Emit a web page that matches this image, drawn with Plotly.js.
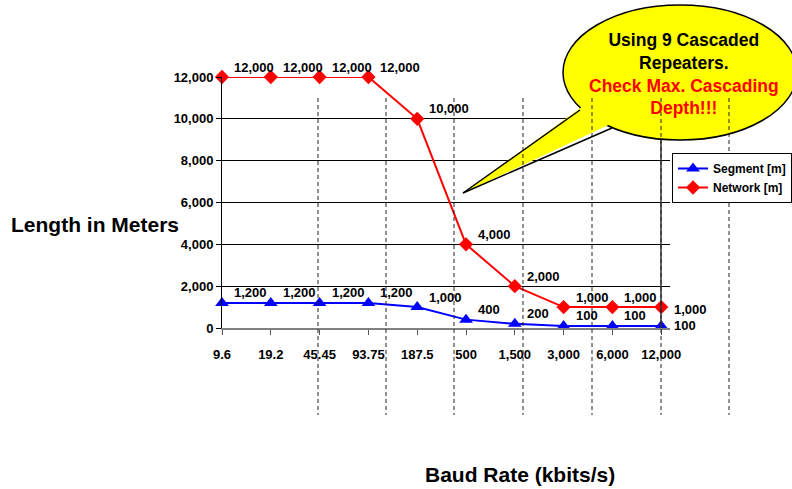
<!DOCTYPE html>
<html>
<head>
<meta charset="utf-8">
<script src="https://cdn.plot.ly/plotly-3.0.1.min.js"></script>
<style>html,body{margin:0;padding:0;background:#fff;}#chart{width:792px;height:489px;}</style>
</head>
<body>
<div id="chart"></div>
<script>
// ---- data ----
const baudRates = ["9.6", "19.2", "45.45", "93.75", "187.5", "500", "1,500", "3,000", "6,000", "12,000"];
const segmentM = [1200, 1200, 1200, 1200, 1000, 400, 200, 100, 100, 100];
const networkM = [12000, 12000, 12000, 12000, 10000, 4000, 2000, 1000, 1000, 1000];
const segmentName = "Segment [m]";
const networkName = "Network [m]";
const yTicks = [0, 2000, 4000, 6000, 8000, 10000, 12000];
const yTickText = ["0", "2,000", "4,000", "6,000", "8,000", "10,000", "12,000"];
const calloutLines = ["Using 9 Cascaded", "Repeaters."];
const calloutWarn = ["Check Max. Cascading", "Depth!!!"];

// ---- layout helpers (pixel -> paper) ----
const W = 792, H = 489;
const L = 222, R = 670, T = 77, B = 328;
const px = x => (x - L) / (R - L);
const py = y => (B - y) / (B - T);

const fmt = v => v.toLocaleString("en-US");
const FONT = "Liberation Sans, Arial, sans-serif";
const boldFont = (size, color) => ({family: FONT, size: size, color: color || "#000", weight: "bold"});

const traces = [
  {
    x: baudRates, y: segmentM, name: "<b>" + segmentName + "</b>", type: "scatter", mode: "lines+markers",
    line: {color: "#0000FF", width: 2},
    marker: {symbol: "triangle-up", size: 12, color: "#0000FF"},
    cliponaxis: false
  },
  {
    x: baudRates, y: networkM, name: "<b>" + networkName + "</b>", type: "scatter", mode: "lines+markers",
    line: {color: "#FF0000", width: 2},
    marker: {symbol: "diamond", size: 11, color: "#FF0000"},
    cliponaxis: false
  }
];

// decorative slide elements
const shapes = [];
shapes.push({type: "circle", xref: "paper", yref: "paper", layer: "above",
  x0: px(563), x1: px(797), y0: py(140), y1: py(5),
  fillcolor: "#FFFF00", line: {color: "#000", width: 1.5}});
const tA = [580, 110], tB = [612, 128], tip = [463, 193];
const tAi = [586, 104], tBi = [617, 121];
shapes.push({type: "path", xref: "paper", yref: "paper", layer: "above",
  path: `M ${px(tAi[0])} ${py(tAi[1])} L ${px(tip[0])} ${py(tip[1])} L ${px(tBi[0])} ${py(tBi[1])} Z`,
  fillcolor: "#FFFF00", line: {width: 0}});
shapes.push({type: "line", xref: "paper", yref: "paper", layer: "above",
  x0: px(tA[0]), y0: py(tA[1]), x1: px(tip[0]), y1: py(tip[1]), line: {color: "#000", width: 1.5}});
shapes.push({type: "line", xref: "paper", yref: "paper", layer: "above",
  x0: px(tB[0]), y0: py(tB[1]), x1: px(tip[0]), y1: py(tip[1]), line: {color: "#000", width: 1.5}});
shapes.push({type: "line", xref: "paper", yref: "paper", layer: "above",
  x0: px(661), x1: px(661), y0: py(140), y1: py(328), line: {color: "#333", width: 1.5}});
[318, 386, 454, 523, 592, 661, 729].forEach(x => {
  shapes.push({type: "line", xref: "paper", yref: "paper", layer: "above",
    x0: px(x), x1: px(x), y0: py(98), y1: py(415),
    line: {color: "#222", width: 1, dash: "4px,3px"}});
});

// data labels (built from the data arrays; x is the category index)
const annotations = [];
const addLabels = (vals, lastShift) => {
  vals.forEach((v, i) => {
    const last = i === vals.length - 1;
    annotations.push({x: i, y: v, xref: "x", yref: "y", text: fmt(v), showarrow: false,
      xanchor: "left", yanchor: "middle", xshift: last ? 11 : 10, yshift: last ? lastShift : 10,
      font: boldFont(13)});
  });
};
addLabels(segmentM, 0);
addLabels(networkM, -2);

annotations.push(
  {xref: "paper", yref: "paper", x: px(95), y: py(225), xanchor: "center", yanchor: "middle",
   text: "Length in Meters", showarrow: false, font: boldFont(21)},
  {xref: "paper", yref: "paper", x: px(520), y: py(474), xanchor: "center", yanchor: "middle",
   text: "Baud Rate (kbits/s)", showarrow: false, font: boldFont(21)},
  {xref: "paper", yref: "paper", x: px(684), y: py(74), xanchor: "center", yanchor: "middle",
   text: calloutLines.join("<br>") + "<br><span style='color:#FF0000'>" + calloutWarn.join("<br>") + "</span>",
   showarrow: false, align: "center", font: boldFont(17.5)}
);

const layout = {
  width: W, height: H,
  margin: {l: L, r: W - R, t: T, b: H - B, pad: 0, autoexpand: false},
  paper_bgcolor: "#fff", plot_bgcolor: "#fff",
  font: {family: FONT, size: 13, color: "#000"},
  showlegend: true,
  legend: {x: px(672), y: py(153), xanchor: "left", yanchor: "top",
    bgcolor: "#fff", bordercolor: "#000", borderwidth: 1, tracegroupgap: 0,
    font: boldFont(12)},
  xaxis: {type: "category", categoryorder: "array", categoryarray: baudRates,
    range: [0, 9.18], autorange: false, showgrid: false, zeroline: false,
    showline: true, linecolor: "#808080", linewidth: 1.5,
    ticks: "outside", ticklen: 5, tickcolor: "#555", ticklabelstandoff: 9,
    tickfont: boldFont(13), fixedrange: true},
  yaxis: {range: [0, 12000], autorange: false, tickvals: yTicks, ticktext: yTickText,
    showgrid: true, gridcolor: "#000", gridwidth: 1, zeroline: false,
    showline: true, linecolor: "#000", linewidth: 1,
    ticks: "outside", ticklen: 5, tickcolor: "#000",
    tickfont: boldFont(13), fixedrange: true},
  shapes: shapes,
  annotations: annotations
};

Plotly.newPlot("chart", traces, layout, {displayModeBar: false, staticPlot: true});
</script>
</body>
</html>
